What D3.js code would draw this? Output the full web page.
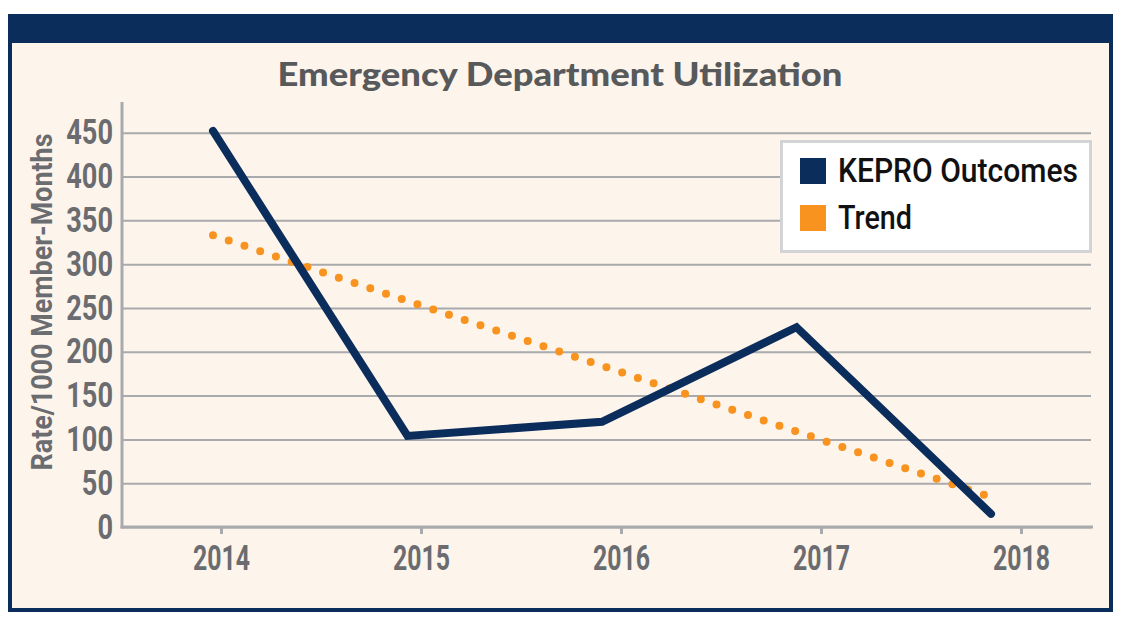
<!DOCTYPE html>
<html>
<head>
<meta charset="utf-8">
<script src="https://cdn.jsdelivr.net/npm/d3@7"></script>
<style>
  html, body { margin: 0; background: #fff; }
  svg { display: block; }
</style>
</head>
<body>
<svg id="chart" width="1133" height="630"></svg>
<script>
// Emergency Department Utilization — KEPRO outcomes vs. linear trend.

const years = [2014, 2015, 2016, 2017, 2018];
const kepro = [452, 104, 120, 228, 15];
const trend = [333, 258, 184, 109, 34];
const yTicks = [0, 50, 100, 150, 200, 250, 300, 350, 400, 450];
const seriesNames = ['KEPRO Outcomes', 'Trend'];

const NAVY = '#0b2d5c', ORANGE = '#f7931e', GRID = '#a9aaad', LABEL = '#6b6c70';
const FONT = 'Roboto, "Liberation Sans", sans-serif';

const svg = d3.select('#chart');

// frame: cream panel, navy border and header band
svg.append('rect').attr('x', 10).attr('y', 16).attr('width', 1101).attr('height', 594)
  .attr('fill', '#fdf5ec').attr('stroke', NAVY).attr('stroke-width', 4);
svg.append('rect').attr('x', 8).attr('y', 14).attr('width', 1105).attr('height', 29).attr('fill', NAVY);

svg.append('text')
  .attr('x', 560).attr('y', 86).attr('text-anchor', 'middle')
  .attr('font-family', 'Lato, "Open Sans", sans-serif').attr('font-weight', 900).attr('font-size', 33)
  .attr('fill', '#58595b')
  .attr('textLength', 565).attr('lengthAdjust', 'spacingAndGlyphs')
  .text('Emergency Department Utilization');

const left = 122, right = 1091, bottom = 527;
const y = d3.scaleLinear().domain([0, 450]).range([bottom, 132.7]);
const x = d3.scalePoint().domain(years).range([221, 1021]);
// the series sit a little left of the category ticks in the original
const xs = d3.scaleLinear().domain([2014, 2018]).range([213, 991]);

// y axis + gridlines
const gy = svg.append('g').attr('transform', `translate(${left},0)`)
  .call(d3.axisLeft(y).tickValues(yTicks).tickSize(-(right - left)).tickSizeOuter(0).tickPadding(9));
gy.select('.domain').remove();
gy.selectAll('.tick line').attr('stroke', GRID).attr('stroke-width', 2);
gy.selectAll('.tick text')
  .attr('font-family', FONT).attr('font-weight', 700).attr('font-size', 35).attr('fill', LABEL)
  .attr('textLength', d => String(d).length * 15.6).attr('lengthAdjust', 'spacingAndGlyphs');

// x axis
const gx = svg.append('g').attr('transform', `translate(0,${bottom})`)
  .call(d3.axisBottom(x).tickSize(7).tickSizeOuter(0).tickPadding(11));
gx.select('.domain').remove();
gx.selectAll('.tick line').attr('stroke', GRID).attr('stroke-width', 3);
gx.selectAll('.tick text')
  .attr('font-family', FONT).attr('font-weight', 700).attr('font-size', 35).attr('fill', LABEL)
  .attr('textLength', 57).attr('lengthAdjust', 'spacingAndGlyphs');

svg.append('line').attr('x1', left).attr('x2', left).attr('y1', 102).attr('y2', bottom + 1.5)
  .attr('stroke', GRID).attr('stroke-width', 3);
svg.append('line').attr('x1', left - 1.5).attr('x2', 1093).attr('y1', bottom).attr('y2', bottom)
  .attr('stroke', GRID).attr('stroke-width', 3);

svg.append('text')
  .attr('transform', `translate(52,302) rotate(-90)`).attr('text-anchor', 'middle')
  .attr('font-family', FONT).attr('font-weight', 700).attr('font-size', 30).attr('fill', LABEL)
  .attr('textLength', 337).attr('lengthAdjust', 'spacingAndGlyphs')
  .text('Rate/1000 Member-Months');

// series
const line = d3.line().x((d, i) => xs(years[i])).y(d => y(d));

svg.append('path').datum(trend).attr('d', line)
  .attr('fill', 'none').attr('stroke', ORANGE).attr('stroke-width', 8)
  .attr('stroke-linecap', 'round').attr('stroke-dasharray', '0 16.6');

svg.append('path').datum(kepro).attr('d', line)
  .attr('fill', 'none').attr('stroke', NAVY).attr('stroke-width', 8)
  .attr('stroke-linecap', 'round').attr('stroke-linejoin', 'miter');

// legend
const lg = svg.append('g').attr('transform', 'translate(780,140)');
lg.append('rect').attr('x', 1.5).attr('y', 1.5).attr('width', 309).attr('height', 110)
  .attr('fill', '#fff').attr('stroke', '#d3d4d6').attr('stroke-width', 3);
const item = lg.selectAll('g.item').data(seriesNames).join('g').attr('class', 'item')
  .attr('transform', (d, i) => `translate(20,${18 + i * 47})`);
item.append('rect').attr('width', 26).attr('height', 26).attr('fill', (d, i) => [NAVY, ORANGE][i]);
item.append('text').attr('x', 38).attr('y', 24)
  .attr('font-family', FONT).attr('font-weight', 500).attr('font-size', 33).attr('fill', '#111')
  .attr('textLength', (d, i) => [240, 74][i]).attr('lengthAdjust', 'spacingAndGlyphs')
  .text(d => d);
</script>
</body>
</html>
